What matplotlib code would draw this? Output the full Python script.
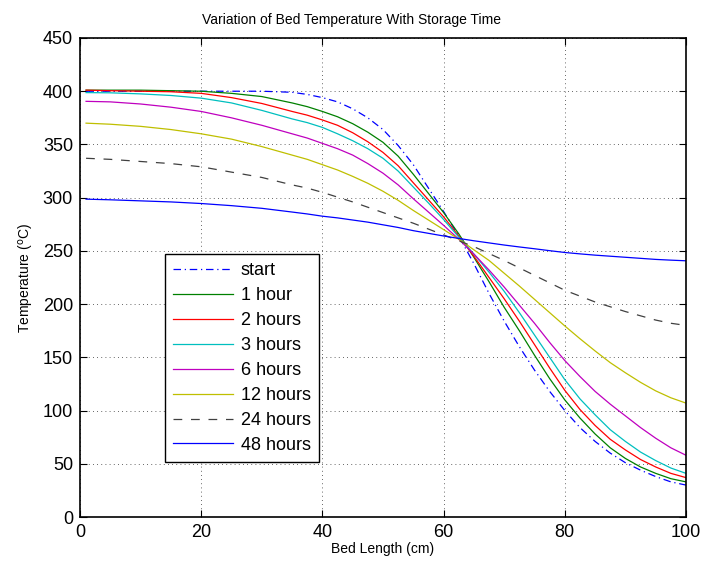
import matplotlib
matplotlib.use("Agg")
import matplotlib.pyplot as plt
import numpy as np

plt.rcParams['font.family'] = ['Liberation Sans', 'DejaVu Sans']

bed_length = [1, 5, 10, 15, 20, 25, 30, 35, 37.5, 40, 42.5, 45, 47.5, 50, 52.5, 55, 57.5, 60, 62.5, 65,
              67.5, 70, 72.5, 75, 77.5, 80, 82.5, 85, 87.5, 90, 92.5, 95, 97.5, 100]

temp_start = [400, 400, 400, 400, 400, 400, 400, 399, 397, 394, 390, 383.5, 375, 364, 349, 331, 309, 287, 264, 238,
              210, 184, 160, 138, 118, 100, 84, 71, 60, 51, 44, 38, 33, 30]
temp_1h = [401, 401, 401, 400.5, 400, 398, 395, 389, 385.5, 381, 376, 369.5, 361.5, 352, 339, 322, 304, 286, 266, 244,
           221, 197, 175, 152, 130, 110, 93, 78, 65, 55, 47, 41, 36, 33]
temp_2h = [401, 400.5, 400, 399.5, 398, 394, 388.5, 381, 377.5, 373, 368, 361, 352.5, 342.5, 330, 314, 298, 282, 264, 245,
           225, 205, 184, 162, 140, 119, 101, 86, 73, 63, 54, 47, 41, 37]
temp_3h = [398.7, 398.5, 397.5, 396, 393.5, 389, 382, 374, 370.5, 366, 360, 353.5, 346, 337, 325, 310, 295, 279.5, 263, 247,
           230, 212, 192, 171, 150, 129, 111, 96, 82, 71, 61, 53, 46, 41]
temp_6h = [390.5, 390, 388, 385, 381, 375, 368, 360, 356, 351, 346, 340, 332, 323, 312, 299, 286.5, 274, 261, 247,
           232, 216, 199, 182, 164, 147, 132, 118, 106, 95, 84, 74, 65, 58]
temp_12h = [370, 369, 367, 364, 360, 355, 348, 340, 336, 331, 326, 320, 313.5, 306, 297.5, 288, 279, 270, 261, 251,
            241, 229, 217, 204.5, 192, 179.5, 167.5, 156, 145, 135.5, 126.5, 118.5, 112, 107]
temp_24h = [337, 336, 334, 332, 329, 324, 319, 312, 309, 305, 300.5, 296, 291, 286, 281, 276, 270.5, 265, 259.5, 254,
            247.5, 241, 234, 227, 220, 213, 207.5, 202, 197.5, 193, 189, 185, 182, 180]
temp_48h = [298.6, 298, 297, 296, 294.5, 292.5, 290, 286.5, 284.7, 282.6, 281, 279, 277, 274.5, 272, 269, 266.5, 264, 261.7, 259.5,
            257.5, 255.5, 253.7, 252, 250.2, 248.5, 247.2, 246, 245, 244, 243, 242, 241.3, 240.7]

labels = ['start', '1 hour', '2 hours', '3 hours', '6 hours', '12 hours', '24 hours', '48 hours']
series = [temp_start, temp_1h, temp_2h, temp_3h, temp_6h, temp_12h, temp_24h, temp_48h]
colors = ['#0000ff', '#008000', '#ff0000', '#00bfbf', '#bf00bf', '#bfbf00', '#404040', '#0000ff']
styles = [(0, (6, 3, 1, 3)), '-', '-', '-', '-', '-', (0, (7, 7)), '-']

x_ticks = [0, 20, 40, 60, 80, 100]
y_ticks = [0, 50, 100, 150, 200, 250, 300, 350, 400, 450]

fig = plt.figure(figsize=(7.04, 5.69), dpi=100)
ax = fig.add_axes([80/704, 1-517/569, 606/704, (517-38)/569])

for ys, lab, c, ls in zip(series, labels, colors, styles):
    ax.plot(bed_length, ys, color=c, linestyle=ls, linewidth=0.9, label=lab)

ax.set_xlim(0, 100)
ax.set_ylim(0, 450)
ax.set_xticks(x_ticks)
ax.set_yticks(y_ticks)
ax.tick_params(direction='in', top=True, right=True, length=5, labelsize=13, width=0.8, pad=5)
ax.grid(True, linestyle=(0, (1, 4)), color='#333333', linewidth=0.6)
for sp in ax.spines.values():
    sp.set_linewidth(1.2)

ax.set_xlabel('Bed Length (cm)', fontsize=10, labelpad=1)
ax.set_ylabel(r'Temperature ($^{\mathrm{o}}$C)', fontsize=10, labelpad=5)
ax.set_title('Variation of Bed Temperature With Storage Time', fontsize=10, pad=10,
             x=(352-80)/606)

leg = ax.legend(loc='lower left', bbox_to_anchor=(0.14, 0.115), fontsize=13,
                handlelength=3.3, handletextpad=0.45, labelspacing=0.44,
                borderpad=0.45, borderaxespad=0, fancybox=False, framealpha=1,
                edgecolor='black')
leg.get_frame().set_linewidth(1.0)

fig.savefig('out.png', dpi=100)
